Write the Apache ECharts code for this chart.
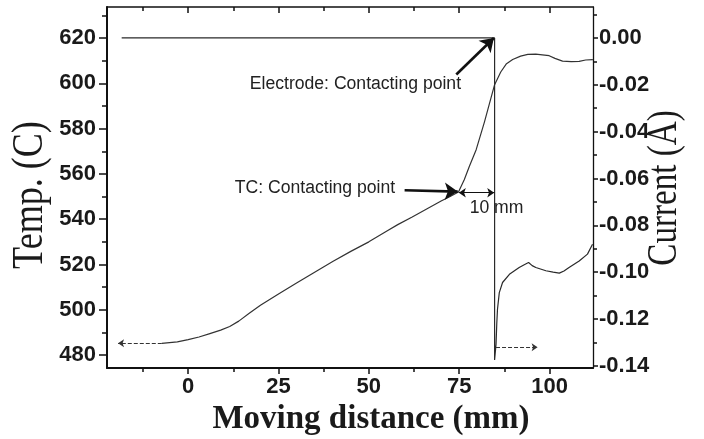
<!DOCTYPE html>
<html><head><meta charset="utf-8">
<script src="https://cdn.jsdelivr.net/npm/echarts@6/dist/echarts.min.js"></script>
<style>html,body{margin:0;padding:0;background:#fff}#c{width:704px;height:439px}</style>
</head><body><div id="c"></div>
<script>
// ---- data ----
const tempDistance = [-7.3, -3, 0, 3, 6, 9, 11.5, 14, 17, 20, 25, 30, 35, 40, 45, 50, 55, 58, 62, 66, 70, 72.5, 74.8, 76.4, 77.8, 79.7, 82, 84.8, 86.5, 88, 89.8, 92, 94, 96.2, 98, 99.9, 101.5, 103.6, 106, 108.2, 110, 112];
const temperature = [485.2, 485.8, 486.8, 488.0, 489.5, 491.0, 492.6, 495.0, 498.6, 502.0, 507.0, 511.8, 516.6, 521.3, 525.8, 530.0, 534.8, 537.6, 541.0, 544.5, 548.0, 550.0, 552.0, 557.4, 563.3, 570.7, 583.0, 599.4, 605.0, 608.5, 610.5, 612.0, 612.8, 612.9, 612.6, 612.2, 611.0, 609.8, 609.6, 609.7, 610.3, 610.5];
const currentDistance = [-18.4, 84.8, 84.8, 85.0, 85.2, 85.4, 85.6, 86.1, 87.0, 88.9, 91.6, 93.0, 94.2, 95.2, 96.2, 99.0, 101.0, 102.7, 104.0, 105.4, 108.2, 110.5, 111.9];
const current = [0, 0, -0.1375, -0.134, -0.1307, -0.122, -0.1158, -0.1087, -0.1044, -0.1009, -0.0980, -0.0968, -0.0959, -0.0972, -0.0980, -0.0994, -0.1000, -0.1004, -0.0995, -0.0980, -0.0952, -0.0923, -0.0881];
const xTicks = [0, 25, 50, 75, 100];
const xMinorTicks = [-12.5, 12.5, 37.5, 62.5, 87.5];
const tempTicks = [480, 500, 520, 540, 560, 580, 600, 620];
const tempMinorTicks = [490, 510, 530, 550, 570, 590, 610, 630];
const currentTicks = [0, -0.02, -0.04, -0.06, -0.08, -0.10, -0.12, -0.14];
const currentMinorTicks = [0.01, -0.01, -0.03, -0.05, -0.07, -0.09, -0.11, -0.13];
const xTitle = 'Moving distance (mm)';
const tempTitle = 'Temp. (C)';
const currentTitle = 'Current (A)';
const notes = ['Electrode: Contacting point', 'TC: Contacting point', '10 mm'];

// ---- chart ----
const X_MIN = -22.46, X_MAX = 112.03;
const T_MIN = 474.3, T_MAX = 633.7;
const C_MIN = -0.1409, C_MAX = 0.0132;
const ink = '#1a1a1a';
const tickFont = {fontSize: 22, fontWeight: 'bold', fontFamily: '"Liberation Sans", Arial, sans-serif', color: ink};

function xAxisDef(pos, vals, len, major, showLine, lw) {
  return {
    type: 'value', min: X_MIN, max: X_MAX, position: pos,
    axisLine: {show: showLine, onZero: false, lineStyle: {color: '#111', width: lw}},
    axisTick: {show: true, inside: pos === 'top', customValues: vals, length: len, lineStyle: {color: '#111', width: 1.5}},
    axisLabel: major && pos === 'bottom' ? Object.assign({customValues: vals, margin: 8}, tickFont) : {show: false},
    splitLine: {show: false}
  };
}
function yAxisDef(pos, min, max, vals, len, major, showLine, lw, fmt, margin) {
  const lab = major ? Object.assign({customValues: vals, margin: margin}, tickFont) : {show: false};
  if (major && fmt) lab.formatter = fmt;
  return {
    type: 'value', min: min, max: max, position: pos,
    axisLine: {show: showLine, onZero: false, lineStyle: {color: '#111', width: lw}},
    axisTick: {show: true, customValues: vals, length: len, lineStyle: {color: '#111', width: 1.5}},
    axisLabel: lab,
    splitLine: {show: false}
  };
}

const tempData = tempDistance.map((d, i) => [d, temperature[i]]);
const currentData = currentDistance.map((d, i) => [d, current[i]]);

const noteLabel = {show: true, position: 'right', distance: 0, fontSize: 17.6, fontFamily: '"Liberation Sans", Arial, sans-serif', color: '#222'};

function arrowPair(a, b, sym, size, style) {
  return [
    {coord: a, symbol: sym[0], symbolSize: size, lineStyle: style},
    {coord: b, symbol: sym[1], symbolSize: size, lineStyle: style}
  ];
}

const option = {
  animation: false,
  backgroundColor: '#fff',
  grid: {left: 107, right: 111, top: 7, bottom: 71, outerBoundsMode: 'none', containLabel: false},
  xAxis: [
    xAxisDef('bottom', xTicks, 6, true, true, 2.2),
    xAxisDef('bottom', xMinorTicks, 4, false, false, 1),
    xAxisDef('top', xTicks, 6, true, true, 1.5),
    xAxisDef('top', xMinorTicks, 4, false, false, 1)
  ],
  yAxis: [
    yAxisDef('left', T_MIN, T_MAX, tempTicks, 8, true, true, 2, null, 11),
    yAxisDef('left', T_MIN, T_MAX, tempMinorTicks, 5, false, false, 1, null, 0),
    yAxisDef('right', C_MIN, C_MAX, currentTicks, 5, true, true, 1.3, v => v.toFixed(2), 6),
    yAxisDef('right', C_MIN, C_MAX, currentMinorTicks, 4, false, false, 1, null, 0)
  ],
  series: [
    {
      type: 'line', name: 'Temperature', xAxisIndex: 0, yAxisIndex: 0, data: tempData,
      symbol: 'none', showSymbol: false, silent: true,
      lineStyle: {color: '#333', width: 1.2},
      markLine: {
        silent: true, animation: false, label: {show: false}, emphasis: {disabled: true},
        data: [
          arrowPair([-7.3, 485.2], [-19.4, 485.2], ['none', 'arrow'], 6, {type: 'dashed', color: '#333', width: 1}),
          arrowPair([59.9, 552.8], [74.6, 552.2], ['none', 'arrow'], 13, {type: 'solid', color: '#111', width: 2.6}),
          arrowPair([74.2, 603.9], [84.6, 620.0], ['none', 'arrow'], 13, {type: 'solid', color: '#111', width: 2.6}),
          arrowPair([74.9, 551.7], [84.7, 551.7], ['arrow', 'arrow'], 7, {type: 'solid', color: '#111', width: 1})
        ]
      },
      markPoint: {
        silent: true, symbol: 'circle', symbolSize: 0,
        data: [
          {coord: [17.05, 599.7], label: Object.assign({formatter: notes[0]}, noteLabel)},
          {coord: [12.9, 553.6], label: Object.assign({formatter: notes[1]}, noteLabel)},
          {coord: [77.9, 545.0], label: Object.assign({formatter: notes[2]}, noteLabel)}
        ]
      }
    },
    {
      type: 'line', name: 'Current', xAxisIndex: 0, yAxisIndex: 2, data: currentData,
      symbol: 'none', showSymbol: false, silent: true,
      lineStyle: {color: '#2a2a2a', width: 1.2},
      markLine: {
        silent: true, animation: false, label: {show: false}, emphasis: {disabled: true},
        data: [
          arrowPair([85.2, -0.132], [96.7, -0.132], ['none', 'arrow'], 6, {type: 'dashed', color: '#333', width: 1})
        ]
      }
    }
  ],
  graphic: [
    {type: 'text', x: 371, y: 419, silent: true,
     style: {text: xTitle, font: 'bold 33px "Liberation Serif", "Times New Roman", serif', fill: ink, textAlign: 'center', textVerticalAlign: 'middle', align: 'center', verticalAlign: 'middle'}},
    {type: 'text', x: 30, y: 195, rotation: Math.PI / 2, scaleX: 0.82, silent: true,
     style: {text: tempTitle, font: '44px "Liberation Serif", "Times New Roman", serif', fill: ink, textAlign: 'center', textVerticalAlign: 'middle', align: 'center', verticalAlign: 'middle'}},
    {type: 'text', x: 665, y: 188, rotation: Math.PI / 2, scaleX: 0.77, silent: true,
     style: {text: currentTitle, font: '43px "Liberation Serif", "Times New Roman", serif', fill: ink, textAlign: 'center', textVerticalAlign: 'middle', align: 'center', verticalAlign: 'middle'}}
  ]
};

const chart = echarts.init(document.getElementById('c'), null, {renderer: 'canvas'});
chart.setOption(option);
</script>
</body></html>
